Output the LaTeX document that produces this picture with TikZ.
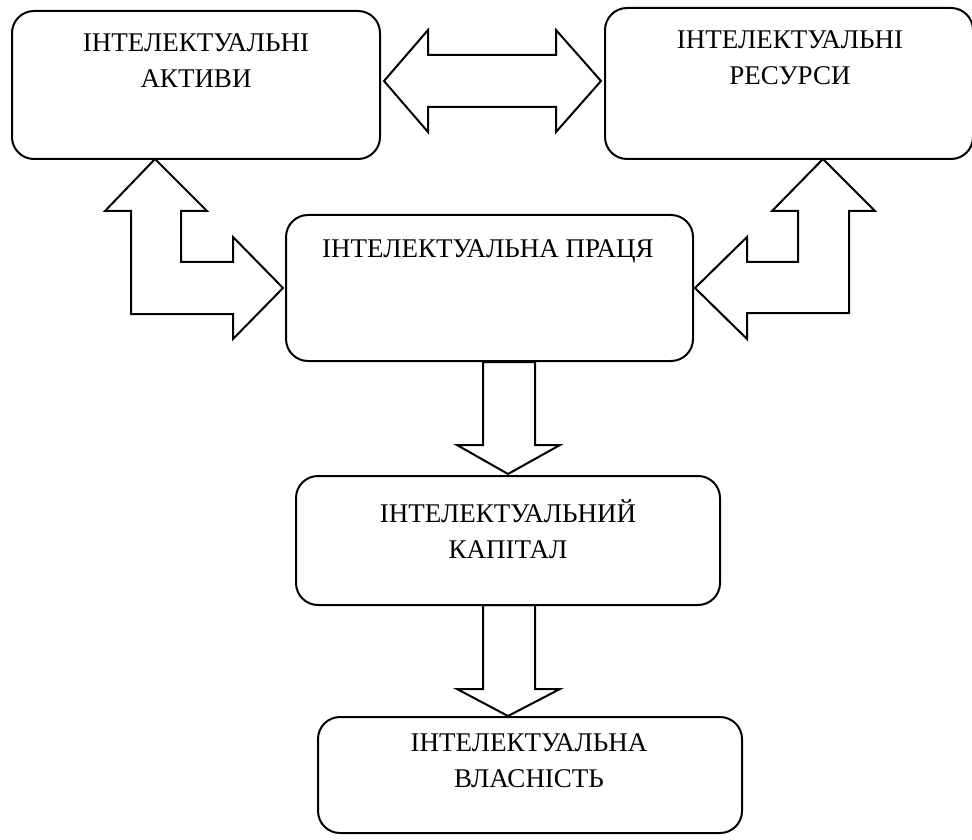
\documentclass[tikz,border=0pt]{standalone}
\usepackage{fontspec}
\setmainfont{Liberation Serif}

\begin{document}
\begin{tikzpicture}
  [x=0.5pt,y=-0.5pt,
   box/.style={draw,rounded corners=11pt,line width=1pt,inner sep=0pt},
   lbl/.style={font=\fontsize{13.5}{18.3}\selectfont,align=center,inner sep=0pt,anchor=north},
   blk/.style={draw,line width=1pt,line join=miter}]
  \useasboundingbox (0,0) rectangle (972,839);

  % boxes
  \node[box,minimum width=184pt,minimum height=74pt] (act) at (196,85) {};
  \node[box,minimum width=184pt,minimum height=75.5pt] (res) at (789,83.5) {};
  \node[box,minimum width=203.5pt,minimum height=73pt] (work) at (489.5,288) {};
  \node[box,minimum width=212pt,minimum height=64.5pt] (cap) at (508,540.5) {};
  \node[box,minimum width=212pt,minimum height=58pt] (prop) at (530,775) {};

  \node[lbl] (actT) at (196,33) {ІНТЕЛЕКТУАЛЬНІ\\АКТИВИ};
  \node[lbl] (resT) at (790,30) {ІНТЕЛЕКТУАЛЬНІ\\РЕСУРСИ};
  \node[lbl] (workT) at (488,239) {ІНТЕЛЕКТУАЛЬНА ПРАЦЯ};
  \node[lbl] (capT) at (508,499) {ІНТЕЛЕКТУАЛЬНИЙ\\КАПІТАЛ};
  \node[lbl] (propT) at (529,733) {ІНТЕЛЕКТУАЛЬНА\\ВЛАСНІСТЬ};

  % block arrows
  \draw[blk] (384,81) -- (428,30) -- (428,55) -- (556,55) -- (556,30) -- (601,81)
    -- (556,132) -- (556,107) -- (428,107) -- (428,132) -- cycle;
  \draw[blk] (155,159) -- (207,211) -- (181,211) -- (181,262) -- (233,262) -- (233,237)
    -- (283,288) -- (233,339) -- (233,314) -- (131,314) -- (131,211) -- (105,211) -- cycle;
  \draw[blk] (823,159) -- (875,211) -- (849,211) -- (849,313) -- (747,313) -- (747,339)
    -- (695,288) -- (747,237) -- (747,262) -- (798,262) -- (798,211) -- (772,211) -- cycle;

  \foreach \top/\base/\tip in {362/445/474, 605/689/716}
    \draw[blk] (483,\top) -- (535,\top) -- (535,\base) -- (560,\base) -- (508,\tip)
      -- (457,\base) -- (483,\base) -- cycle;

\end{tikzpicture}
\end{document}
